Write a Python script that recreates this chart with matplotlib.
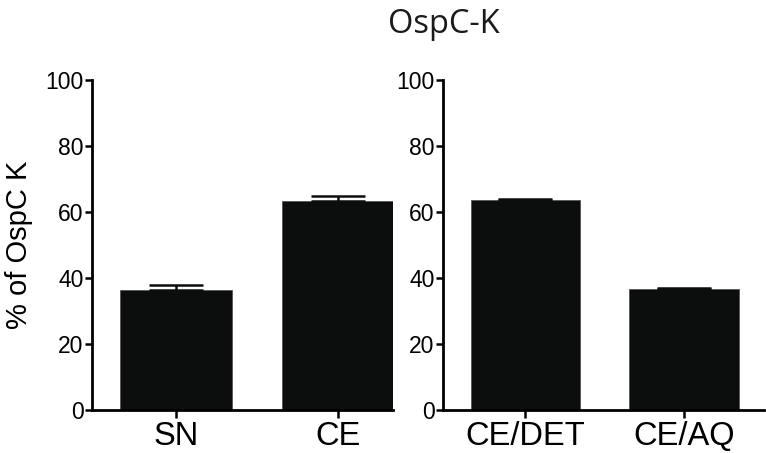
import matplotlib
matplotlib.use("Agg")
import matplotlib.pyplot as plt

BAR_COLOR = "#0c0d0d"

LEFT_LABELS = ["SN", "CE"]
LEFT_VALUES = [36.5, 63.3]
LEFT_ERRORS = [1.5, 1.5]

RIGHT_LABELS = ["CE/DET", "CE/AQ"]
RIGHT_VALUES = [63.5, 36.6]
RIGHT_ERRORS = [0.3, 0.5]

Y_TICKS = [0, 20, 40, 60, 80, 100]

plt.rcParams["font.family"] = ["Liberation Sans", "DejaVu Sans"]

fig = plt.figure(figsize=(7.66, 4.53), dpi=100)
ax_left = fig.add_axes([0.120, 0.095, 0.393, 0.7285])
ax_right = fig.add_axes([0.578, 0.095, 0.419, 0.7285])


def draw_panel(ax, labels, values, errors, xlim):
    x = list(range(len(labels)))
    ax.bar(x, values, width=0.69, color=BAR_COLOR, edgecolor="#555555",
           linewidth=0.6, zorder=2)
    ax.errorbar(x, values, yerr=[[0] * len(errors), errors], fmt="none",
                ecolor=BAR_COLOR, elinewidth=1.8, capsize=19.5, capthick=1.8,
                zorder=3)
    ax.set_xlim(*xlim)
    ax.set_ylim(0, 100)
    ax.set_yticks(Y_TICKS)
    ax.set_xticks(x)
    ax.set_xticklabels(labels, fontsize=23.5)
    ax.tick_params(axis="y", labelsize=16.5, width=1.8, length=5, pad=1)
    ax.tick_params(axis="x", width=1.8, length=6, pad=2)
    for side in ["top", "right"]:
        ax.spines[side].set_visible(False)
    for side in ["left", "bottom"]:
        ax.spines[side].set_linewidth(2)


draw_panel(ax_left, LEFT_LABELS, LEFT_VALUES, LEFT_ERRORS, (-0.52, 1.34))
draw_panel(ax_right, RIGHT_LABELS, RIGHT_VALUES, RIGHT_ERRORS, (-0.52, 1.50))

ax_left.set_ylabel("% of OspC K", fontsize=21)
ax_left.yaxis.set_label_coords(-0.196, 0.5)

fig.text(0.58, 0.947, "OspC-K", ha="center", va="center", fontsize=23.5,
         family=["Open Sans", "DejaVu Sans"], color="#1a1a1a")

fig.savefig("out.png", dpi=100)
